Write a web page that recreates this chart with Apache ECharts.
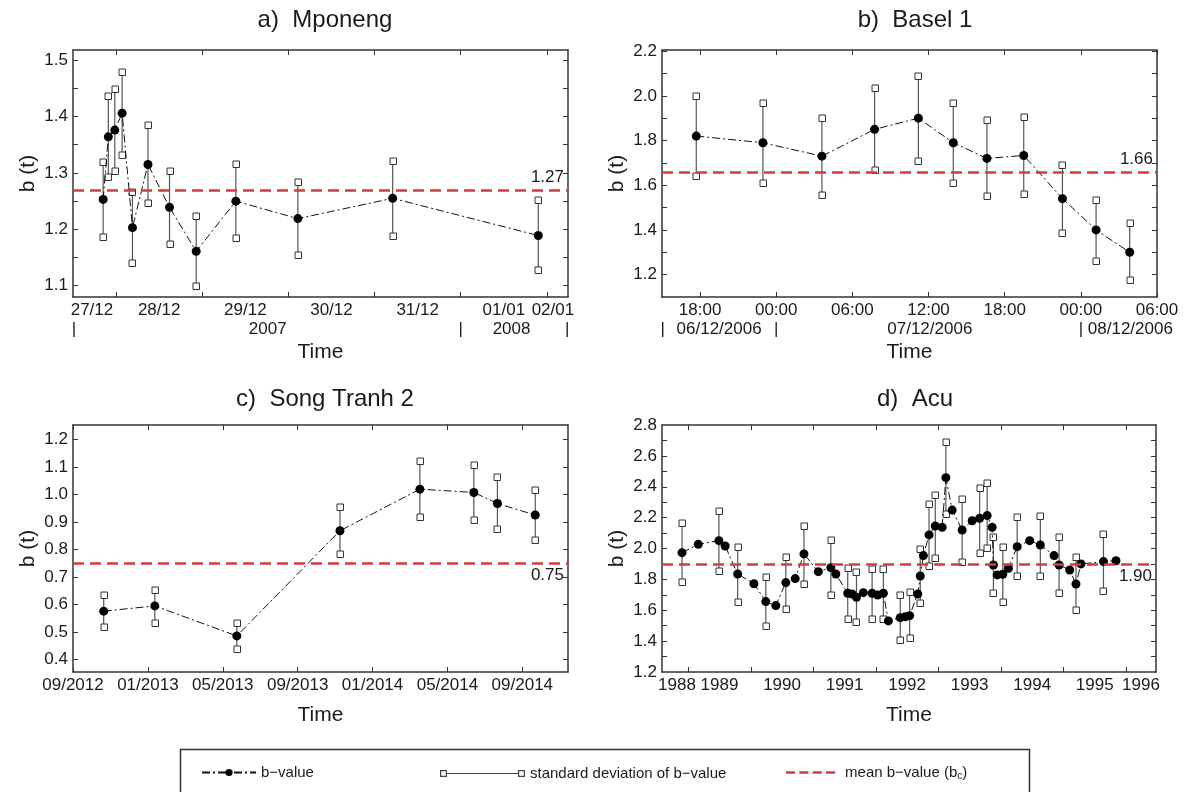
<!DOCTYPE html>
<html>
<head>
<meta charset="utf-8">
<script src="https://cdn.jsdelivr.net/npm/echarts@6/dist/echarts.min.js"></script>
<style>
html,body{margin:0;padding:0;background:#fff}
#chart{width:1184px;height:792px}
</style>
</head>
<body>
<div id="chart"></div>
<script>
const FONT = '"Liberation Sans", Arial, Helvetica, sans-serif'
const INK = '#1a1a1a'
const RED = '#dc3a3a'

// a) Mponeng, x = days since 27/12/2007 00:00
const aTime = [0.85, 0.91, 0.985, 1.07, 1.19, 1.37, 1.62, 1.93, 2.39, 3.11, 4.21, 5.90]
const aB    = [1.253, 1.364, 1.376, 1.406, 1.203, 1.315, 1.239, 1.161, 1.250, 1.219, 1.255, 1.189]
const aHi   = [1.320, 1.437, 1.448, 1.479, 1.266, 1.385, 1.304, 1.223, 1.315, 1.284, 1.322, 1.252]
const aLo   = [1.187, 1.293, 1.303, 1.332, 1.140, 1.247, 1.174, 1.099, 1.184, 1.155, 1.189, 1.127]
const aXTicks = [1, 2, 3, 4, 5, 6]
const aXLabelAt = [0.72, 1.5, 2.5, 3.5, 4.5, 5.5, 6.07]
const aXLabels = ['27/12', '28/12', '29/12', '30/12', '31/12', '01/01', '02/01']
const aRow2At = [0.51, 2.76, 5.0, 5.59, 6.235]
const aRow2Labels = ['|', '2007', '|', '2008', '|']
const aYTicks = [1.1, 1.15, 1.2, 1.25, 1.3, 1.35, 1.4, 1.45, 1.5]
const aYLabelAt = [1.1, 1.2, 1.3, 1.4, 1.5]

// b) Basel 1, x = hours since 06/12/2006 00:00
const bTime = [17.7, 22.95, 27.6, 31.75, 35.2, 37.95, 40.6, 43.5, 46.55, 49.2, 51.85]
const bB    = [1.82, 1.79, 1.73, 1.85, 1.90, 1.79, 1.72, 1.733, 1.54, 1.40, 1.30]
const bHi   = [2.00, 1.97, 1.90, 2.037, 2.09, 1.97, 1.89, 1.907, 1.69, 1.535, 1.433]
const bLo   = [1.64, 1.61, 1.556, 1.666, 1.71, 1.612, 1.55, 1.56, 1.386, 1.26, 1.174]
const bXTicks = [18, 24, 30, 36, 42, 48, 54]
const bXLabels = ['18:00', '00:00', '06:00', '12:00', '18:00', '00:00', '06:00']
const bRow2At = [15.05, 19.5, 24, 36.1, 48, 51.9]
const bRow2Labels = ['|', '06/12/2006', '|', '07/12/2006', '|', '08/12/2006']
const bYTicks = [1.2, 1.3, 1.4, 1.5, 1.6, 1.7, 1.8, 1.9, 2.0, 2.1, 2.2]
const bYLabelAt = [1.2, 1.4, 1.6, 1.8, 2.0, 2.2]

// c) Song Tranh 2, x = months since 09/2012
const cTime = [1.64, 4.37, 8.75, 14.26, 18.53, 21.41, 22.67, 24.69]
const cB    = [0.576, 0.595, 0.486, 0.868, 1.019, 1.007, 0.967, 0.925]
const cHi   = [0.634, 0.652, 0.534, 0.953, 1.121, 1.107, 1.064, 1.016]
const cLo   = [0.519, 0.534, 0.437, 0.782, 0.919, 0.907, 0.873, 0.834]
const cXTicks = [0, 4, 8, 12, 16, 20, 24]
const cXLabels = ['09/2012', '01/2013', '05/2013', '09/2013', '01/2014', '05/2014', '09/2014']
const cYTicks = [0.4, 0.5, 0.6, 0.7, 0.8, 0.9, 1.0, 1.1, 1.2]

// d) Acu, x = decimal years (null = no error bar)
const dTime = [1988.90, 1989.16, 1989.49, 1989.59, 1989.79, 1990.05, 1990.24, 1990.40, 1990.56, 1990.71,
  1990.85, 1991.08, 1991.28, 1991.36, 1991.55, 1991.62, 1991.69, 1991.80, 1991.94, 1992.03,
  1992.12, 1992.20, 1992.39, 1992.47, 1992.54, 1992.67, 1992.71, 1992.76, 1992.85, 1992.95,
  1993.06, 1993.12, 1993.22, 1993.38, 1993.54, 1993.66, 1993.78, 1993.86, 1993.88, 1993.94,
  1994.03, 1994.12, 1994.26, 1994.46, 1994.63, 1994.85, 1994.93, 1995.10, 1995.20, 1995.28,
  1995.64, 1995.84]
const dB = [1.973, 2.027, 2.051, 2.016, 1.835, 1.772, 1.656, 1.630, 1.779, 1.805,
  1.965, 1.850, 1.876, 1.835, 1.710, 1.705, 1.684, 1.714, 1.710, 1.699,
  1.710, 1.531, 1.552, 1.558, 1.565, 1.705, 1.822, 1.954, 2.088, 2.146,
  2.137, 2.459, 2.249, 2.120, 2.180, 2.196, 2.213, 2.137, 1.893, 1.829,
  1.833, 1.872, 2.012, 2.051, 2.023, 1.954, 1.893, 1.861, 1.770, 1.900,
  1.915, 1.921]
const dHi = [2.163, null, 2.245, null, 2.012, null, 1.816, null, 1.947, null,
  2.148, null, 2.057, null, 1.872, null, 1.846, null, 1.869, null,
  1.867, null, 1.699, null, 1.718, null, 1.995, null, 2.286, 2.347,
  null, 2.692, null, 2.321, null, 2.390, 2.426, null, 2.077, null,
  2.012, null, 2.206, null, 2.211, null, 2.077, null, 1.947, null,
  2.094, null]
const dLo = [1.785, null, 1.852, null, 1.656, null, 1.498, null, 1.606, null,
  1.772, null, 1.697, null, 1.544, null, 1.524, null, 1.541, null,
  1.541, null, 1.408, null, 1.419, null, 1.649, null, 1.887, 1.937,
  null, 2.222, null, 1.915, null, 1.973, 2.005, null, 1.714, null,
  1.656, null, 1.822, null, 1.824, null, 1.714, null, 1.602, null,
  1.727, null]
const dXTicks = [1989, 1990, 1991, 1992, 1993, 1994, 1995, 1996]
const dXLabelAt = [1988.82, 1989.5, 1990.5, 1991.5, 1992.5, 1993.5, 1994.5, 1995.5, 1996.24]
const dXLabels = ['1988', '1989', '1990', '1991', '1992', '1993', '1994', '1995', '1996']
const dYTicks = [1.3, 1.4, 1.5, 1.6, 1.7, 1.8, 1.9, 2.0, 2.1, 2.2, 2.3, 2.4, 2.5, 2.6, 2.7]
const dYLabelAt = [1.2, 1.4, 1.6, 1.8, 2.0, 2.2, 2.4, 2.6, 2.8]

const titles = ['a)  Mponeng', 'b)  Basel 1', 'c)  Song Tranh 2', 'd)  Acu']
const meanValues = [1.266, 1.663, 0.749, 1.897]
const meanLabels = ['1.27', '1.66', '0.75', '1.90']

const NAME_B = 'b\u2212value'
const NAME_SD = 'standard deviation of b\u2212value'
const NAME_MEAN = 'mean b\u2212value (bc)'

function pick(at, texts){
  return (v)=>{
    let k = 0, best = Infinity
    at.forEach((p, j)=>{
      const d = Math.abs(p - v)
      if(d < best){ best = d; k = j }
    })
    return texts[k]
  }
}

const panels = [
  {grid:{left:73, top:50, width:495, height:247}, title:[320, 3],
    xMin:0.5, xMax:6.245, xTicks:aXTicks, xLabelAt:aXLabelAt, xLabels:aXLabels,
    row2At:aRow2At, row2Labels:aRow2Labels, nameGap:45,
    yMin:1.08, yMax:1.518, yTicks:aYTicks, yLabelAt:aYLabelAt,
    t:aTime, b:aB, hi:aHi, lo:aLo, meanPos:'insideEndTop'},
  {grid:{left:662, top:50, width:495, height:247}, title:[910, 3],
    xMin:15, xMax:54, xTicks:bXTicks, xLabelAt:bXTicks, xLabels:bXLabels,
    row2At:bRow2At, row2Labels:bRow2Labels, nameGap:45,
    yMin:1.1, yMax:2.205, yTicks:bYTicks, yLabelAt:bYLabelAt,
    t:bTime, b:bB, hi:bHi, lo:bLo, meanPos:'insideEndTop'},
  {grid:{left:73, top:425, width:495, height:247}, title:[320, 382],
    xMin:0, xMax:26.44, xTicks:cXTicks, xLabelAt:cXTicks, xLabels:cXLabels,
    nameGap:33,
    yMin:0.355, yMax:1.252, yTicks:cYTicks, yLabelAt:cYTicks,
    t:cTime, b:cB, hi:cHi, lo:cLo, meanPos:'insideEndBottom'},
  {grid:{left:662, top:425, width:494, height:247}, title:[910, 382],
    xMin:1988.58, xMax:1996.48, xTicks:dXTicks, xLabelAt:dXLabelAt, xLabels:dXLabels,
    nameGap:33,
    yMin:1.2, yMax:2.8, yTicks:dYTicks, yLabelAt:dYLabelAt,
    t:dTime, b:dB, hi:dHi, lo:dLo, meanPos:'insideEndBottom'}
]

const axisLine = {show:true, onZero:false, lineStyle:{color:'#333', width:1.5}}
const tickStyle = {color:'#333', width:1}
const legendText = {fontSize:15, color:INK, fontFamily:FONT}

const option = {
  animation:false,
  backgroundColor:'#fff',
  textStyle:{fontFamily:FONT},
  title:[], grid:[], xAxis:[], yAxis:[], series:[],
  legend:[
    {data:[NAME_B], left:196, top:760, itemWidth:54, itemHeight:9,
      selectedMode:false, textStyle:legendText},
    {data:[{name:NAME_SD,
        icon:'path://M0,0L7,0L7,7L0,7Z M1.2,1.2L1.2,5.8L5.8,5.8L5.8,1.2Z M7,3L78,3L78,4L7,4Z M78,0L85,0L85,7L78,7Z M79.2,1.2L79.2,5.8L83.8,5.8L83.8,1.2Z'}],
      left:435, top:761, itemWidth:85, itemHeight:7, itemStyle:{color:'#444', borderWidth:0},
      selectedMode:false, textStyle:legendText},
    {data:[{name:NAME_MEAN,
        icon:'path://M0,0L11,0L11,3L0,3Z M16,0L27,0L27,3L16,3Z M32,0L43,0L43,3L32,3Z M48,0L59,0L59,3L48,3Z'}],
      left:781, top:760, itemWidth:59, itemHeight:2.5, itemStyle:{color:RED, borderWidth:0},
      selectedMode:false,
      formatter:()=> 'mean b\u2212value (b{sub|c})',
      textStyle:Object.assign({}, legendText, {
        rich:{sub:{fontSize:10, color:INK, fontFamily:FONT, verticalAlign:'bottom', padding:[7, 0, 0, 0]}}})}
  ],
  graphic:[{
    type:'rect', left:178, top:747, silent:true,
    shape:{width:849, height:46},
    style:{fill:'none', stroke:'#333', lineWidth:1.5}
  }]
}

panels.forEach((p, i)=>{
  option.title.push({
    text:titles[i], left:p.title[0], top:p.title[1], textAlign:'center',
    textStyle:{fontSize:24, fontWeight:'normal', color:INK, fontFamily:FONT}
  })
  option.grid.push(Object.assign({show:false, outerBoundsMode:'none'}, p.grid))

  const xMain = option.xAxis.length
  option.xAxis.push({
    type:'value', gridIndex:i, min:p.xMin, max:p.xMax, position:'bottom',
    axisLine, splitLine:{show:false},
    axisTick:{inside:true, length:5, customValues:p.xTicks, lineStyle:tickStyle},
    axisLabel:{customValues:p.xLabelAt, formatter:pick(p.xLabelAt, p.xLabels),
      fontSize:17, color:INK, margin:5, fontFamily:FONT},
    name:'Time', nameLocation:'middle', nameGap:p.nameGap,
    nameTextStyle:{fontSize:21, color:INK, fontFamily:FONT}
  })
  option.xAxis.push({
    type:'value', gridIndex:i, min:p.xMin, max:p.xMax, position:'top',
    axisLine, splitLine:{show:false},
    axisTick:{inside:true, length:5, customValues:p.xTicks, lineStyle:tickStyle},
    axisLabel:{show:false}
  })
  if(p.row2At){
    option.xAxis.push({
      type:'value', gridIndex:i, min:p.xMin, max:p.xMax, position:'bottom', offset:19,
      axisLine:{show:false}, axisTick:{show:false}, splitLine:{show:false},
      axisLabel:{customValues:p.row2At, formatter:pick(p.row2At, p.row2Labels),
        fontSize:17, color:INK, margin:5, fontFamily:FONT}
    })
  }

  const yMain = option.yAxis.length
  option.yAxis.push({
    type:'value', gridIndex:i, min:p.yMin, max:p.yMax, position:'left',
    axisLine, splitLine:{show:false},
    axisTick:{inside:true, length:5, customValues:p.yTicks, lineStyle:tickStyle},
    axisLabel:{customValues:p.yLabelAt, formatter:(v)=>v.toFixed(1),
      fontSize:17, color:INK, margin:5, fontFamily:FONT},
    name:'b (t)', nameLocation:'middle', nameGap:34, nameRotate:90,
    nameTextStyle:{fontSize:21, color:INK, fontFamily:FONT}
  })
  option.yAxis.push({
    type:'value', gridIndex:i, min:p.yMin, max:p.yMax, position:'right',
    axisLine, splitLine:{show:false},
    axisTick:{inside:true, length:5, customValues:p.yTicks, lineStyle:tickStyle},
    axisLabel:{show:false}
  })

  const bars = []
  p.t.forEach((x, k)=>{
    if(p.hi[k] != null) bars.push([x, p.lo[k], p.hi[k]])
  })

  option.series.push({
    type:'custom', name:NAME_SD, xAxisIndex:xMain, yAxisIndex:yMain, z:2,
    itemStyle:{color:'#444'},
    encode:{x:0, y:[1, 2]},
    data:bars,
    renderItem:(params, api)=>{
      const x = api.value(0)
      const lo = api.coord([x, api.value(1)])
      const hi = api.coord([x, api.value(2)])
      const sq = (pt)=>({type:'rect',
        shape:{x:Math.round(pt[0]) - 3, y:Math.round(pt[1]) - 3, width:6.5, height:6.5},
        style:{fill:'#fff', stroke:'#333', lineWidth:1}})
      return {type:'group', children:[
        {type:'line', shape:{x1:lo[0], y1:lo[1], x2:hi[0], y2:hi[1]},
          style:{stroke:'#555', lineWidth:1.2}},
        sq(lo), sq(hi)
      ]}
    }
  })
  option.series.push({
    type:'line', name:NAME_B, xAxisIndex:xMain, yAxisIndex:yMain, z:4,
    data:p.t.map((x, k)=>[x, p.b[k]]),
    symbol:'circle', symbolSize:9, showAllSymbol:true,
    itemStyle:{color:'#000'},
    lineStyle:{color:'#111', width:1, type:[8, 3, 2, 3]}
  })
  option.series.push({
    type:'line', name:NAME_MEAN, xAxisIndex:xMain, yAxisIndex:yMain, z:3,
    data:[], symbol:'none',
    itemStyle:{color:RED},
    lineStyle:{color:RED, width:2.5, type:[11, 6]},
    markLine:{
      silent:true, symbol:'none', animation:false,
      data:[{yAxis:meanValues[i]}],
      lineStyle:{color:RED, width:2.5, type:[11, 6]},
      label:{show:true, position:p.meanPos, distance:4, formatter:()=>meanLabels[i],
        fontSize:17, color:INK, fontFamily:FONT}
    }
  })
})

const chart = echarts.init(document.getElementById('chart'))
chart.setOption(option)
</script>
</body>
</html>
